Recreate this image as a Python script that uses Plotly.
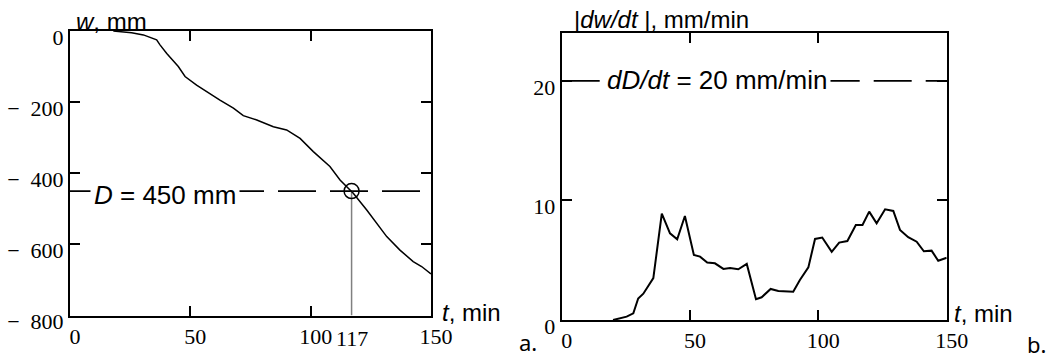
import plotly.graph_objects as go

# ---- data (a): settlement w vs time t ----
t_a = [18, 25.6, 30.5, 36, 37.4, 40.2, 45, 47.8, 52.6, 56.8, 62.3, 67.9, 72, 77.6, 84.5, 90,
       95.6, 101.1, 108, 112.2, 117.7, 123.3, 127.4, 131.6, 137.1, 142.6, 146.1, 150]
w_a = [0, -5, -11, -25, -39, -63, -100, -128, -152, -171, -194, -217, -238, -250, -269, -278,
       -302, -339, -381, -419, -456, -503, -540, -578, -616, -648, -662, -683]
D_limit = -450
t_cross = 117

# ---- data (b): |dw/dt| vs time t ----
t_b = [20, 22.7, 25.3, 27.9, 29.8, 31.8, 33.7, 35.7, 39, 42.2, 45, 48, 51.5, 53.9, 56.7, 59.7,
       63, 65.6, 68.8, 72.1, 75.7, 77.9, 81.4, 84.4, 90.2, 92.8, 96.1, 98.7, 101.5, 105.2,
       108.1, 111.3, 114.6, 117.2, 119.8, 122.7, 126, 129.2, 131.8, 135, 138.3, 141.1, 144.1,
       146.7, 150]
v_b = [0, 0.14, 0.28, 0.56, 1.8, 2.2, 2.8, 3.5, 8.9, 7.25, 6.75, 8.7, 5.44, 5.3, 4.8, 4.74,
       4.27, 4.35, 4.24, 4.69, 1.73, 1.9, 2.6, 2.43, 2.37, 3.35, 4.4, 6.78, 6.9, 5.7,
       6.47, 6.6, 7.95, 7.95, 9.06, 8.09, 9.26, 9.12, 7.53, 6.92, 6.55, 5.75, 5.8,
       4.96, 5.2]
dD_limit = 20

# ---- tick labels ----
xa_ticks = [0, 50, 100, 150]
xa_text = ["0", "50", "100", "150"]
ya_ticks = [0, -200, -400, -600, -800]
ya_text = ["0", "−\u2002200", "−\u2002400", "−\u2002600", "−\u2002800"]
xb_ticks = [0, 50, 100, 150]
xb_text = ["0", "50", "100", "150"]
yb_ticks = [0, 10, 20]
yb_text = ["0", "10", "20"]

W, H = 1052, 360
def px(x):
    return x / W
def py(y):
    return 1 - y / H

SERIF = "Liberation Serif"
SANS = "Liberation Sans"

fig = go.Figure()
fig.add_trace(go.Scatter(x=t_a, y=w_a, mode="lines", line=dict(color="black", width=1.5),
                         xaxis="x", yaxis="y", showlegend=False, hoverinfo="skip"))
fig.add_trace(go.Scatter(x=[t_cross], y=[D_limit], mode="markers",
                         marker=dict(symbol="circle-open", size=15, color="black",
                                     line=dict(width=1.5, color="black")),
                         xaxis="x", yaxis="y", showlegend=False, hoverinfo="skip"))
fig.add_trace(go.Scatter(x=t_b, y=v_b, mode="lines", line=dict(color="black", width=2),
                         xaxis="x2", yaxis="y2", showlegend=False, hoverinfo="skip"))

axis_common = dict(showline=True, linecolor="black", linewidth=2, mirror="ticks",
                   ticks="inside", ticklen=10, tickwidth=2, tickcolor="black",
                   showgrid=False, zeroline=False, fixedrange=True, automargin=False,
                   tickfont=dict(family=SERIF, size=22, color="black"))

fig.update_layout(
    width=W, height=H,
    margin=dict(l=0, r=0, t=0, b=0),
    paper_bgcolor="white", plot_bgcolor="white",
    xaxis=dict(domain=[px(70), px(431)], range=[0, 150], anchor="y",
               tickvals=xa_ticks, ticktext=xa_text, ticklabelshift=5, **axis_common),
    yaxis=dict(domain=[py(315.6), py(31)], range=[-800, 0], anchor="x",
               tickvals=ya_ticks, ticktext=ya_text, ticklabelshift=6, **axis_common),
    xaxis2=dict(domain=[px(561.7), px(946.7)], range=[0, 150], anchor="y2",
                tickvals=xb_ticks, ticktext=xb_text, ticklabelshift=5, **axis_common),
    yaxis2=dict(domain=[py(320), py(33)], range=[0, 24], anchor="x2",
                tickvals=yb_ticks, ticktext=yb_text, ticklabelshift=6, **axis_common),
)

dash = "38px,14px"
fig.add_shape(type="line", xref="x", yref="y", x0=0, x1=150, y0=D_limit, y1=D_limit,
              line=dict(color="black", width=1.8, dash=dash), layer="below")
fig.add_shape(type="line", xref="x", yref="y", x0=t_cross, x1=t_cross, y0=D_limit, y1=-800,
              line=dict(color="#808080", width=1.5), layer="below")
fig.add_shape(type="line", xref="x2", yref="y2", x0=0, x1=150, y0=dD_limit, y1=dD_limit,
              line=dict(color="black", width=1.8, dash=dash), layer="below")

def ann(text, x, y, xanchor="left", yanchor="middle", font=SANS, size=24, bg=None, pad=1,
        xref="paper", yref="paper"):
    fig.add_annotation(text=text, x=x, y=y, xref=xref, yref=yref, xanchor=xanchor,
                       yanchor=yanchor, showarrow=False,
                       font=dict(family=font, size=size, color="black"),
                       bgcolor=bg, borderpad=pad)

# panel (a)
ann("<i>w</i>, mm", px(74), py(21))
ann("<i>D</i> = 450 mm", px(90), py(195), size=26, bg="white", pad=3)
ann("<i>t</i>, min", px(440), py(312))
ann("117", t_cross, py(338), xanchor="center", font=SERIF, size=22, xref="x")
ann("a.", px(517), py(342), font="Noto Sans", size=22)

# panel (b)
ann("|<i>dw/dt</i> |, mm/min", px(572), py(19))
ann("<i>dD/dt</i> = 20 mm/min", px(603), py(80), size=26, bg="white", pad=3)
ann("<i>t</i>, min", px(952), py(313))
ann("b.", px(1026), 0, yanchor="bottom", font="Noto Sans", size=22, pad=0)

fig.write_html("out.html", config={"displayModeBar": False},
               post_script="document.body.style.margin='0';document.body.style.overflow='hidden';")
